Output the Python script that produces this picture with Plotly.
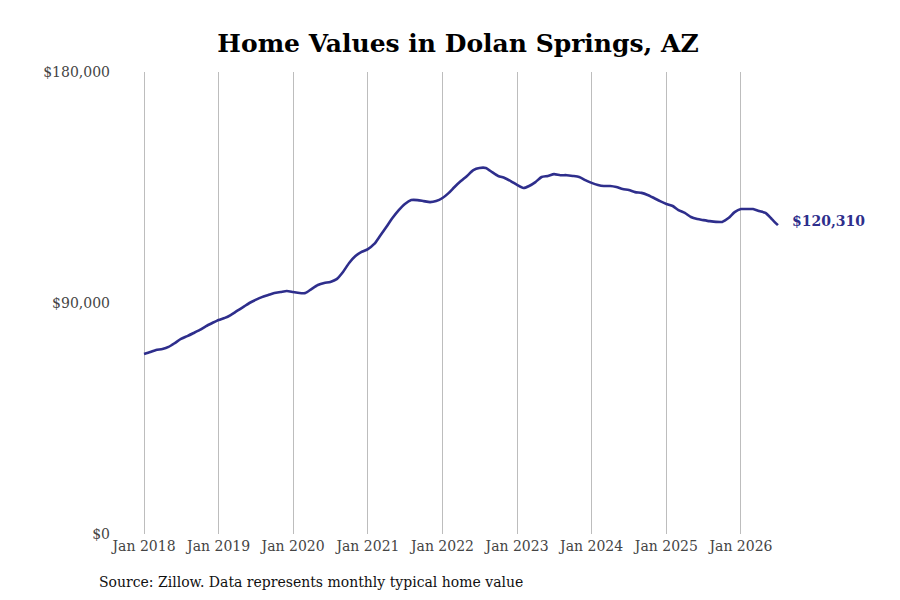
import pandas as pd
import plotly.graph_objects as go

# monthly typical home value, Jan 2018 .. Jul 2026
months = pd.date_range("2018-01-01", "2026-07-01", freq="MS")
values = [
    70130, 70900, 71700, 72100, 72900, 74400, 76000, 77100, 78300, 79500, 81000, 82200,
    83400, 84200, 85300, 86900, 88400, 90000, 91200, 92300, 93100, 93900, 94300, 94700,
    94300, 93900, 93900, 95500, 97000, 97800, 98200, 99300, 102100, 105600, 108300, 109900,
    111000, 113000, 116100, 119600, 123100, 126200, 128600, 130100, 130100, 129700, 129300, 129700,
    130900, 132900, 135200, 137500, 139500, 141800, 142600, 142600, 141000, 139500, 138700, 137500,
    136000, 134800, 135600, 137100, 139100, 139500, 140200, 139800, 139800, 139500, 139100, 137900,
    136800, 136000, 135600, 135600, 135200, 134400, 134000, 133200, 132900, 132100, 130900, 129700,
    128600, 127800, 126200, 125100, 123500, 122700, 122300, 121900, 121600, 121600, 123100, 125400,
    126600, 126600, 126600, 125800, 125100, 122700, 120310,
]
y_ticks = [0, 90000, 180000]
y_labels = ["$0", "$90,000", "$180,000"]
x_ticks = pd.date_range("2018-01-01", "2026-01-01", freq="YS")
x_labels = [f"Jan {d.year}" for d in x_ticks]

line_color = "#2e2e8c"
font = "DejaVu Serif"

fig = go.Figure()
fig.add_trace(go.Scatter(
    x=months, y=values, mode="lines",
    line=dict(color=line_color, width=2.6, shape="spline", smoothing=0.6),
    hoverinfo="x+y", showlegend=False,
))

# end label
fig.add_annotation(
    x=months[-1], y=values[-1], text=f"<b>${values[-1]:,}</b>",
    showarrow=False, xanchor="left", xshift=12, yshift=4,
    font=dict(family=font, size=14, color=line_color),
)

# source note under the chart
fig.add_annotation(
    xref="paper", yref="paper", x=-0.026, y=-0.103, xanchor="left", yanchor="middle",
    text="Source: Zillow. Data represents monthly typical home value",
    showarrow=False, font=dict(family=font, size=14, color="#111"),
)

fig.update_layout(
    width=900, height=600,
    title=dict(text="<b>Home Values in Dolan Springs, AZ</b>", x=0.5, xanchor="center",
               y=0.942, yanchor="middle", font=dict(family=font, size=25, color="#000")),
    margin=dict(l=107, r=108, t=64, b=74),
    plot_bgcolor="white", paper_bgcolor="white",
    font=dict(family=font, size=14, color="#444"),
)
fig.update_xaxes(
    range=["2017-08-12", "2026-10-17"], tickvals=x_ticks, ticktext=x_labels,
    showgrid=True, gridcolor="#bdbdbd", gridwidth=1, zeroline=False, showline=False,
    ticks="", ticklabelstandoff=2, tickfont=dict(family=font, size=14, color="#444"),
)
fig.update_yaxes(
    range=[0, 180000], tickvals=y_ticks, ticktext=y_labels,
    showgrid=False, zeroline=False, showline=False, ticks="", ticklabelstandoff=4,
    tickfont=dict(family=font, size=14, color="#444"),
)

fig.write_html("out.html")
